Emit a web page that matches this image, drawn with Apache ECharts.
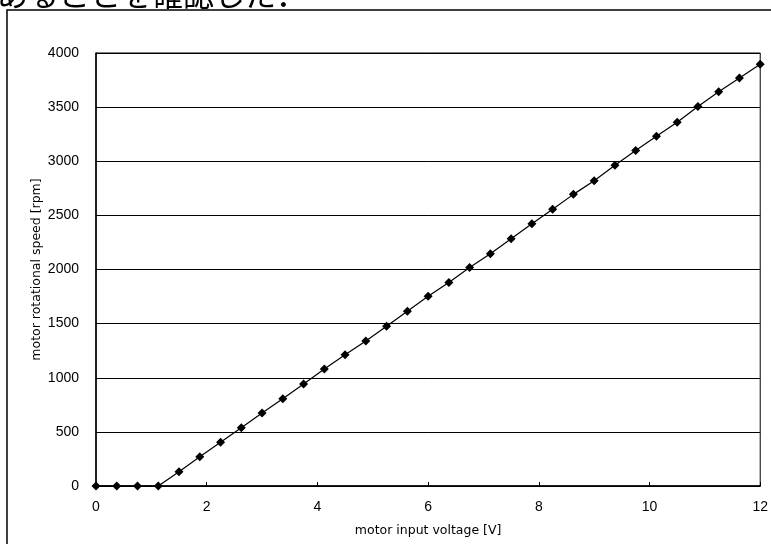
<!DOCTYPE html>
<html>
<head>
<meta charset="utf-8">
<script src="https://cdn.jsdelivr.net/npm/echarts@6/dist/echarts.min.js"></script>
<style>
  html, body { margin: 0; padding: 0; background: #fff; }
  #chart { width: 771px; height: 544px; }
</style>
</head>
<body>
<div id="chart"></div>
<script>
// Motor input voltage [V] (PWM steps of 12/32 V)
const voltage = [
  0, 0.375, 0.75, 1.125, 1.5, 1.875, 2.25, 2.625, 3.0, 3.375, 3.75,
  4.125, 4.5, 4.875, 5.25, 5.625, 6.0, 6.375, 6.75, 7.125, 7.5,
  7.875, 8.25, 8.625, 9.0, 9.375, 9.75, 10.125, 10.5, 10.875, 11.25,
  11.625, 12.0
];
// Measured rotational speed [rpm]
const speed = [
  0, 0, 0, 0, 132, 271, 405, 539, 675, 806, 942,
  1081, 1212, 1340, 1475, 1615, 1752, 1880, 2018, 2145, 2284,
  2423, 2556, 2694, 2820, 2963, 3100, 3230, 3360, 3505, 3642,
  3770, 3897
];
const caption = 'あることを確認した．';
const xTitle = 'motor input voltage [V]';
const yTitle = 'motor rotational speed [rpm]';

const points = voltage.map((v, i) => [v, speed[i]]);
const latin = '"Liberation Sans", "DejaVu Sans", sans-serif';
const titleFont = '"DejaVu Sans", sans-serif';
const cjk = '"Noto Sans CJK JP", sans-serif';

const chart = echarts.init(document.getElementById('chart'), null, { renderer: 'canvas' });
chart.setOption({
  animation: false,
  backgroundColor: '#fff',
  graphic: [
    {
      type: 'rect',
      shape: { x: 7, y: 10, width: 900, height: 700 },
      style: { fill: 'none', stroke: '#000', lineWidth: 1.5 },
      silent: true
    },
    {
      type: 'text',
      left: -3,
      top: -21,
      style: { text: caption, font: '31px ' + cjk, fill: '#000' },
      silent: true
    }
  ],
  grid: {
    left: 96, right: 3, top: 53, bottom: 58,
    show: true, borderColor: '#000', borderWidth: 1, backgroundColor: 'transparent'
  },
  xAxis: {
    type: 'value', min: 0, max: 12, interval: 2,
    name: xTitle, nameLocation: 'middle', nameGap: 38, nameMoveOverlap: false,
    nameTextStyle: { fontSize: 12.5, fontFamily: titleFont, color: '#000' },
    axisLine: { lineStyle: { color: '#000', width: 1.5 } },
    axisTick: { show: true, inside: true, length: 4, lineStyle: { color: '#000' } },
    axisLabel: { fontSize: 14, fontFamily: latin, color: '#000', margin: 14 },
    splitLine: { show: false }
  },
  yAxis: {
    type: 'value', min: 0, max: 4000, interval: 500,
    name: yTitle, nameLocation: 'middle', nameGap: 53, nameRotate: 90, nameMoveOverlap: false,
    nameTextStyle: { fontSize: 12.5, fontFamily: titleFont, color: '#000' },
    axisLine: { show: true, lineStyle: { color: '#000', width: 1.5 } },
    axisTick: { show: false },
    axisLabel: {
      fontSize: 14, fontFamily: latin, color: '#000', margin: 17,
      formatter: v => String(v)
    },
    splitLine: { show: true, lineStyle: { color: '#000', width: 1 } }
  },
  series: [{
    type: 'line',
    data: points,
    symbol: 'diamond',
    symbolSize: 9,
    showAllSymbol: true,
    clip: false,
    lineStyle: { color: '#000', width: 1.2 },
    itemStyle: { color: '#000' }
  }]
});
</script>
</body>
</html>
